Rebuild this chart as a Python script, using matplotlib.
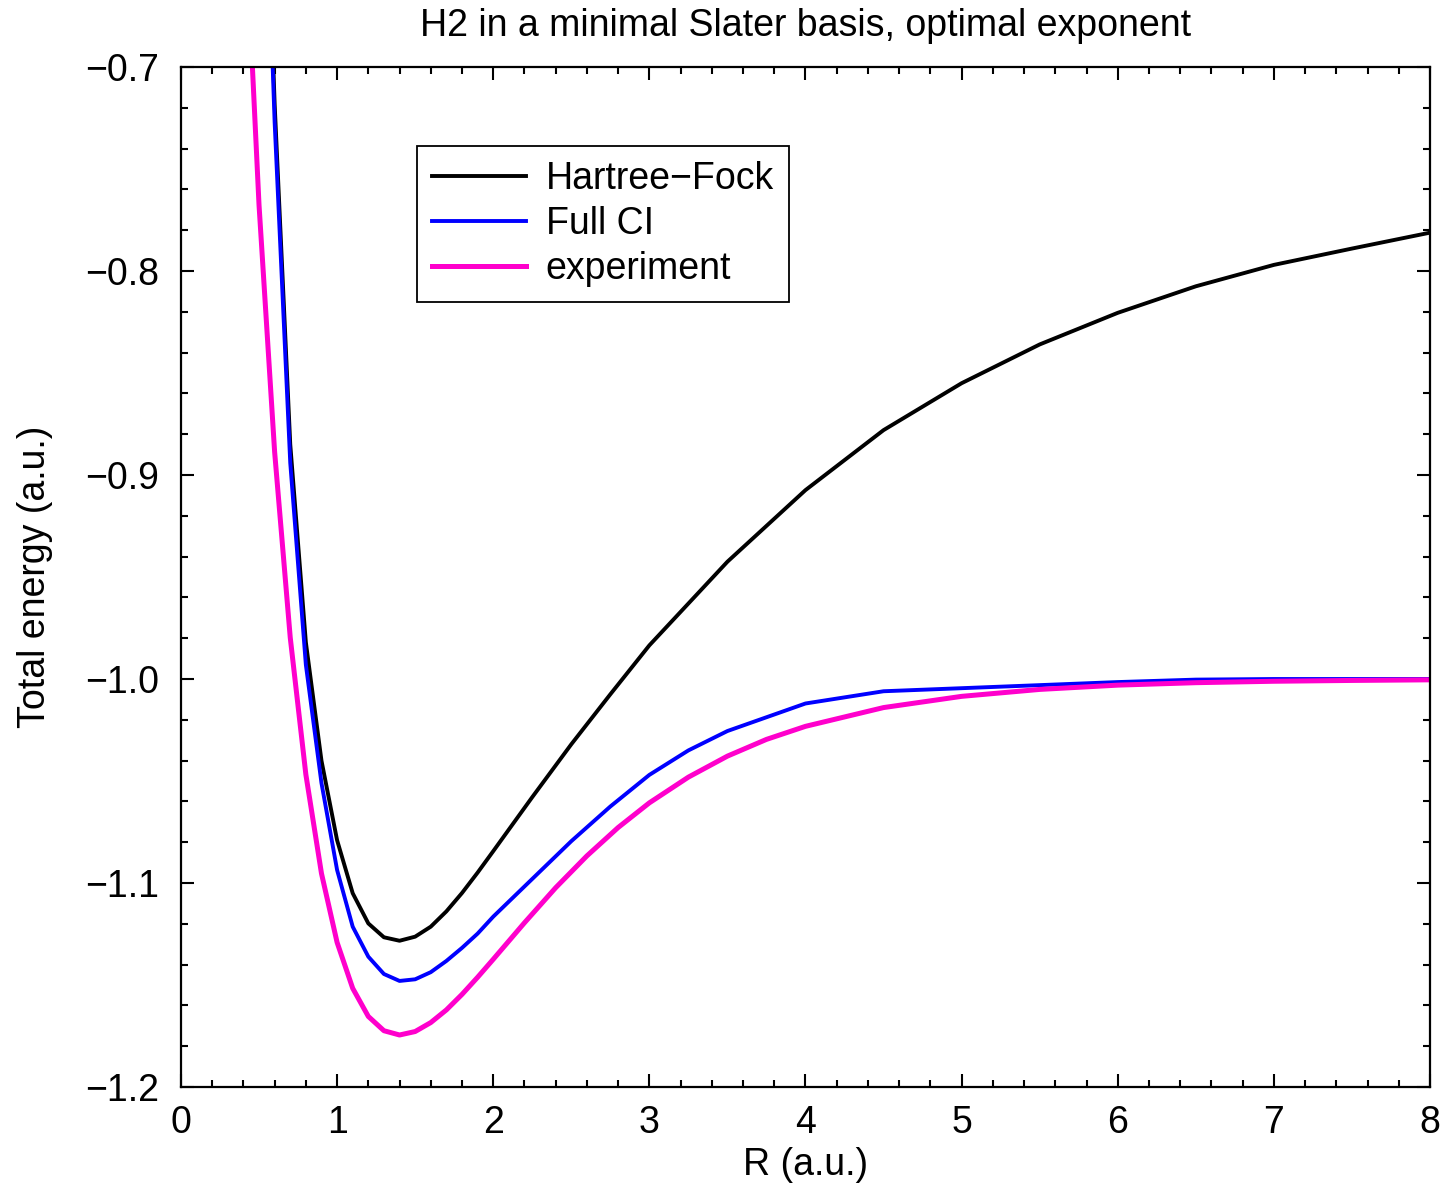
import matplotlib
matplotlib.use("Agg")
import matplotlib.pyplot as plt
from matplotlib.ticker import MultipleLocator

plt.rcParams['font.family'] = ['Liberation Sans', 'DejaVu Sans']

# bond length grid (a.u.) for the two minimal-basis calculations
R_calc = [0.5, 0.6, 0.7, 0.8, 0.9, 1.0, 1.1, 1.2, 1.3, 1.4, 1.5, 1.6, 1.7, 1.8, 1.9,
          2.0, 2.25, 2.5, 2.75, 3.0, 3.25, 3.5, 4.0, 4.5, 5.0, 5.5, 6.0, 6.5,
          7.0, 7.5, 8.0]

E_hf = [-0.500, -0.718, -0.885, -0.982, -1.040, -1.079, -1.105, -1.1198, -1.1266,
        -1.1283, -1.1263, -1.1214, -1.1139, -1.1049, -1.0949, -1.0844, -1.0579,
        -1.0320, -1.0075, -0.9835, -0.9630, -0.9425, -0.9074, -0.8780, -0.8550,
        -0.8360, -0.8205, -0.8075, -0.7970, -0.7890, -0.7812]

E_ci = [-0.510, -0.727, -0.894, -0.993, -1.051, -1.0936, -1.1214, -1.1361, -1.1446,
        -1.1480, -1.1472, -1.1437, -1.1382, -1.1318, -1.1248, -1.1165, -1.0980,
        -1.0795, -1.0625, -1.0470, -1.0350, -1.0255, -1.0120, -1.0060, -1.0045,
        -1.0030, -1.0015, -1.0003, -1.0000, -1.0000, -1.0000]

# reference curve
R_exp = [0.4, 0.5, 0.6, 0.7, 0.8, 0.9, 1.0, 1.1, 1.2, 1.3, 1.4, 1.5, 1.6, 1.7, 1.8,
         1.9, 2.0, 2.2, 2.4, 2.6, 2.8, 3.0, 3.25, 3.5, 3.75, 4.0, 4.5, 5.0, 5.5,
         6.0, 6.5, 7.0, 7.5, 8.0]

E_exp = [-0.608, -0.7676, -0.8887, -0.9797, -1.0468, -1.0953, -1.1291, -1.1516,
         -1.1654, -1.1724, -1.1745, -1.1728, -1.1684, -1.1622, -1.1546, -1.1462,
         -1.1374, -1.1195, -1.1023, -1.0867, -1.0728, -1.0607, -1.0481, -1.0378,
         -1.0296, -1.0232, -1.0140, -1.0085, -1.0051, -1.0030, -1.0018, -1.0011,
         -1.0007, -1.0004]

fs = 27

fig = plt.figure(figsize=(14.43, 11.88), dpi=100)
ax = fig.add_axes([0.1254, 0.085, 0.8656, 0.8586])

ax.plot(R_calc, E_hf, color='black', lw=2.8, label='Hartree\u2212Fock')
ax.plot(R_calc, E_ci, color='#0000ff', lw=2.8, label='Full CI')
ax.plot(R_exp, E_exp, color='#ff00cc', lw=3.6, label='experiment')

ax.set_xlim(0, 8)
ax.set_ylim(-1.2, -0.7)
ax.xaxis.set_major_locator(MultipleLocator(1))
ax.xaxis.set_minor_locator(MultipleLocator(0.2))
ax.yaxis.set_major_locator(MultipleLocator(0.1))
ax.yaxis.set_minor_locator(MultipleLocator(0.02))
ax.yaxis.set_major_formatter(plt.FuncFormatter(lambda v, p: f"{v:.1f}".replace('-', '\u2212')))

ax.tick_params(which='both', direction='in', top=True, right=True, width=1.5,
               labelsize=fs)
ax.tick_params(which='major', length=9.5)
ax.tick_params(which='minor', length=5)
ax.tick_params(axis='y', pad=16)
ax.tick_params(axis='x', pad=13)
for s in ax.spines.values():
    s.set_linewidth(1.6)

ax.set_xlabel('R (a.u.)', fontsize=fs, labelpad=4)
ax.set_ylabel('Total energy (a.u.)', fontsize=fs, labelpad=23)
ax.set_title('H2 in a minimal Slater basis, optimal exponent', fontsize=fs, pad=22)

leg = ax.legend(loc='upper left', bbox_to_anchor=(0.189, 0.9225), borderaxespad=0,
                fontsize=fs, fancybox=False, framealpha=1, edgecolor='black',
                handlelength=2.5, handletextpad=0.53, labelspacing=0.24,
                borderpad=0.4)
leg.get_frame().set_linewidth(1.3)

fig.savefig('out.png', dpi=100)
